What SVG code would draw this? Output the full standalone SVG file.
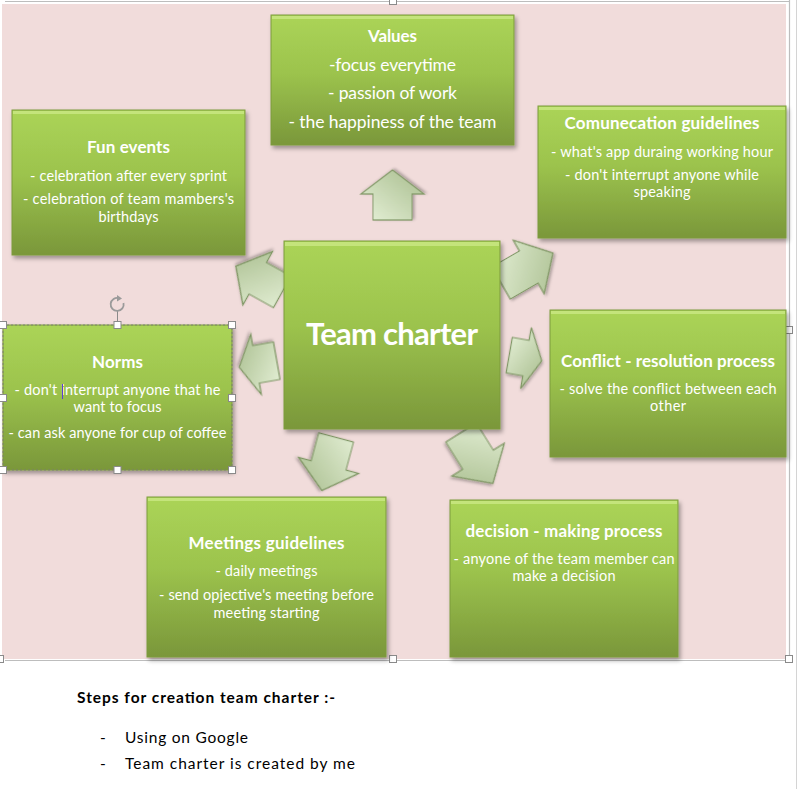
<svg xmlns="http://www.w3.org/2000/svg" width="799" height="789" viewBox="0 0 799 789">
<style>
.box{fill:url(#gBox);stroke:#7d9b3c;stroke-width:1;filter:url(#sh)}
.hl{fill:#c6e57f;opacity:0.9}
.arr{fill:url(#gArrow);stroke:#7f9664;stroke-width:1.2;stroke-linejoin:miter;filter:url(#sh2)}
.t{font-family:Lato,"Liberation Sans",sans-serif;fill:#ffffff;text-anchor:middle}
.h{font-weight:bold;font-size:17px}
.b{font-size:14.5px}
.v{font-size:17.5px}
.k{font-family:Lato,"Liberation Sans",sans-serif;fill:#000000;font-size:15.5px}
.hd{fill:#ffffff;stroke:#8a8a8a;stroke-width:1}
.fr{stroke:#bdbdbd;stroke-width:1.2;fill:none}
</style>
<defs>
<linearGradient id="gBox" x1="0" y1="0" x2="0" y2="1">
<stop offset="0" stop-color="#abd457"/>
<stop offset="0.45" stop-color="#9cc34d"/>
<stop offset="1" stop-color="#7a973a"/>
</linearGradient>
<linearGradient id="gArrow" x1="0" y1="0" x2="1" y2="1">
<stop offset="0" stop-color="#e6f1d8"/>
<stop offset="1" stop-color="#a7bc8c"/>
</linearGradient>
<filter id="sh" x="-10%" y="-10%" width="125%" height="125%">
<feDropShadow dx="2" dy="3" stdDeviation="2" flood-color="#000" flood-opacity="0.35"/>
</filter>
<filter id="sh2" x="-20%" y="-20%" width="150%" height="150%">
<feDropShadow dx="1" dy="2" stdDeviation="1.5" flood-color="#000" flood-opacity="0.3"/>
</filter>
</defs>

<!-- canvas frame -->
<rect x="2" y="4" width="784" height="655" fill="#f1dcdb"/>
<line class="fr" x1="5" y1="1.5" x2="790" y2="1.5"/>
<line class="fr" x1="789.5" y1="0" x2="789.5" y2="660"/>
<line class="fr" x1="5" y1="660.5" x2="789" y2="660.5"/>
<line x1="796.5" y1="0" x2="796.5" y2="789" stroke="#d4d4d4" stroke-width="1"/>
<rect class="hd" x="389.5" y="-1.5" width="7" height="6"/>
<rect class="hd" x="785.5" y="326.5" width="7" height="7"/>
<rect class="hd" x="785.5" y="655.5" width="7" height="7"/>
<rect class="hd" x="389.5" y="655.5" width="7" height="7"/>
<rect class="hd" x="-2.5" y="655.5" width="6" height="7"/>

<!-- connectors (block arrows) -->
<g id="connectors">
<polygon class="arr" transform="translate(392.5,195) rotate(-90)" points="-25,-19.5 1,-19.5 1,-31.5 25,0 1,31.5 1,19.5 -25,19.5"/>
<polygon class="arr" transform="translate(527,268) rotate(-30)" points="-30,-18.5 2,-18.5 2,-31 30,0 2,31 2,18.5 -30,18.5"/>
<polygon class="arr" transform="translate(259,279) rotate(209)" points="-26.5,-18 1.5,-18 1.5,-30.5 26.5,0 1.5,30.5 1.5,18 -26.5,18"/>
<polygon class="arr" transform="translate(258,364) rotate(170)" points="-19,-19 2,-19 2,-30.5 19,0 2,30.5 2,19 -19,19"/>
<polygon class="arr" transform="translate(525.5,358) rotate(10)" points="-16.5,-18 0.5,-18 0.5,-31 16.5,0 0.5,31 0.5,18 -16.5,18"/>
<polygon class="arr" transform="translate(329,464) rotate(105)" points="-27.5,-18 1.5,-18 1.5,-31 27.5,0 1.5,31 1.5,18 -27.5,18"/>
<polygon class="arr" transform="translate(477,458) rotate(58)" points="-30,-18 2,-18 2,-31 30,0 2,31 2,18 -30,18"/>
</g>

<g id="values">
<rect class="box" x="271" y="15" width="243" height="130"/>
<rect class="hl" x="272" y="16" width="241" height="3"/>
<text class="t h" x="392.5" y="42" textLength="49">Values</text>
<text class="t v" x="392.5" y="71" textLength="127">-focus everytime</text>
<text class="t v" x="392.5" y="99" textLength="129">- passion of work</text>
<text class="t v" x="392.5" y="128" textLength="208">- the happiness of the team</text>
</g>

<g id="fun-events">
<rect class="box" x="12" y="110" width="233" height="145"/>
<rect class="hl" x="13" y="111" width="231" height="3"/>
<text class="t h" x="128.5" y="153" textLength="83">Fun events</text>
<text class="t b" x="128.5" y="181" textLength="197">- celebration after every sprint</text>
<text class="t b" x="128.5" y="204" textLength="211">- celebration of team mambers's</text>
<text class="t b" x="128.5" y="222" textLength="60">birthdays</text>
</g>

<g id="communication">
<rect class="box" x="538" y="106" width="248" height="132"/>
<rect class="hl" x="539" y="107" width="246" height="3"/>
<text class="t h" x="662" y="129" textLength="195">Comunecation guidelines</text>
<text class="t b" x="662" y="157" textLength="222">- what's app duraing working hour</text>
<text class="t b" x="662" y="180" textLength="194">- don't interrupt anyone while</text>
<text class="t b" x="662" y="197" textLength="57">speaking</text>
</g>

<g id="team-charter">
<rect class="box" x="284" y="241" width="216" height="188"/>
<rect class="hl" x="285" y="242" width="214" height="4"/>
<text class="t" x="392" y="345" font-size="31" font-weight="bold" textLength="172">Team charter</text>
</g>

<g id="norms">
<rect class="box" x="3" y="325" width="229" height="145"/>
<rect x="3" y="325" width="229" height="145" fill="none" stroke="#7a7a7a" stroke-width="0.8" stroke-dasharray="2,2"/>
<text class="t h" x="117.5" y="368" textLength="51">Norms</text>
<text class="t b" x="117.5" y="395" textLength="206">- don't interrupt anyone that he</text>
<text class="t b" x="117.5" y="412" textLength="88">want to focus</text>
<text class="t b" x="117.5" y="438" textLength="218">- can ask anyone for cup of coffee</text>
<line x1="62.5" y1="384" x2="62.5" y2="399" stroke="#5a3fd6" stroke-width="1"/>
<line x1="117.5" y1="311" x2="117.5" y2="325" stroke="#8a8a8a" stroke-width="1"/>
<path d="M123.5,303 A6.5,6.5 0 1 1 119,298.2" fill="none" stroke="#9a9a9a" stroke-width="1.8"/>
<path d="M117,295 L122,298.5 L117,301.5 Z" fill="#9a9a9a"/>
<rect class="hd" x="-0.5" y="321.5" width="7" height="7"/>
<rect class="hd" x="114" y="321.5" width="7" height="7"/>
<rect class="hd" x="228.5" y="321.5" width="7" height="7"/>
<rect class="hd" x="228.5" y="394.5" width="7" height="7"/>
<rect class="hd" x="228.5" y="466.5" width="7" height="7"/>
<rect class="hd" x="114" y="466.5" width="7" height="7"/>
<rect class="hd" x="-0.5" y="466.5" width="7" height="7"/>
<rect class="hd" x="-0.5" y="394.5" width="7" height="7"/>
</g>

<g id="conflict">
<rect class="box" x="550" y="310" width="236" height="147"/>
<rect class="hl" x="551" y="311" width="234" height="3"/>
<text class="t h" x="668" y="367" textLength="214">Conflict - resolution process</text>
<text class="t b" x="668" y="394" textLength="217">- solve the conflict  between each</text>
<text class="t b" x="668" y="411" textLength="36">other</text>
</g>

<g id="meetings">
<rect class="box" x="147" y="497" width="239" height="160"/>
<rect class="hl" x="148" y="498" width="237" height="3"/>
<text class="t h" x="266.5" y="549" textLength="156">Meetings guidelines</text>
<text class="t b" x="266.5" y="576" textLength="102">- daily meetings</text>
<text class="t b" x="266.5" y="600" textLength="215">- send opjective's meeting before</text>
<text class="t b" x="266.5" y="618" textLength="106">meeting starting</text>
</g>

<g id="decision">
<rect class="box" x="450" y="500" width="228" height="157"/>
<rect class="hl" x="451" y="501" width="226" height="3"/>
<text class="t h" x="564" y="537" textLength="197">decision - making process</text>
<text class="t b" x="564" y="564" textLength="221">- anyone of the team member can</text>
<text class="t b" x="564" y="581" textLength="103">make a decision</text>
</g>

<g id="steps">
<text class="k" x="77" y="703" font-weight="bold" textLength="258">Steps for creation team charter :-</text>
<text class="k" x="100" y="743">-</text>
<text class="k" x="125" y="743" textLength="123">Using on Google</text>
<text class="k" x="100" y="769">-</text>
<text class="k" x="125" y="769" textLength="230">Team charter is created by me</text>
</g>
</svg>
